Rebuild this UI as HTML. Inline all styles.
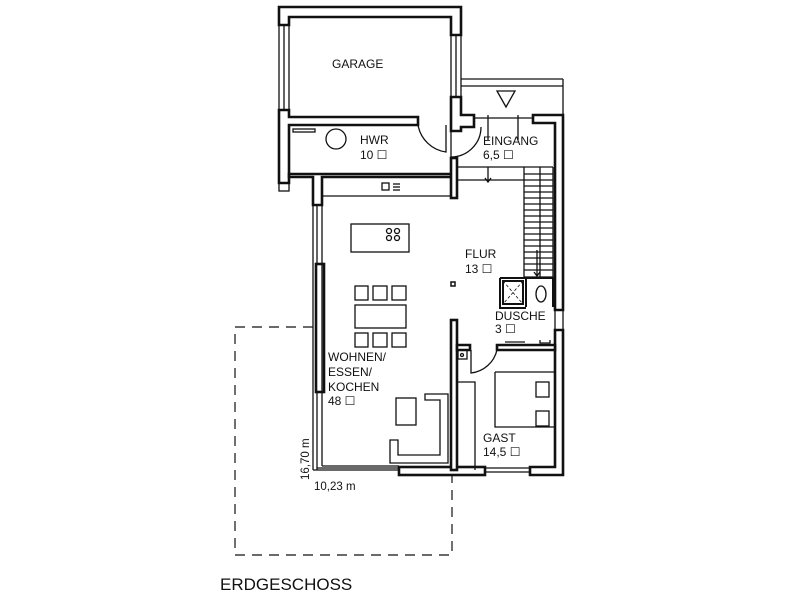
<!DOCTYPE html>
<html><head><style>body{margin:0;background:#fff}svg{display:block}</style></head><body>
<svg width="800" height="600" viewBox="0 0 800 600" xmlns="http://www.w3.org/2000/svg" font-family="Liberation Sans, sans-serif">
<g fill="none" stroke="#111" stroke-width="1.3">
<path d="M313 327 H235 V555 H452 V476" stroke-dasharray="10,7" stroke-width="1.2"/>
<g fill="#fff" stroke-width="2.6">
<path d="M279 25 V7 H461 V35 H451 V17 H289 V25 Z"/>
<path d="M279 110 H289 V117 H418 V125 H289 V183 H279 Z"/>
<path d="M451 97 H461 V115 H474 V127 H461 V131 H451 Z"/>
<path d="M289 174 H452 V177 H322 V205 H313 V177 H289 Z"/>
<rect x="451" y="158" width="6" height="40"/>
<path d="M533 115 H563 V310 H555 V123 H533 Z"/>
<path d="M555 330 H563 V475 H530 V467 H555 Z"/>
<rect x="316" y="264" width="8" height="128"/>
<rect x="399" y="467" width="86" height="8"/>
<rect x="451" y="320" width="6" height="150"/>
<path d="M457 345 H470 V350 H457 Z"/>
<path d="M497 345 H555 V350 H497 Z"/>
</g>
<rect x="279" y="25" width="10" height="85"/>
<line x1="284" y1="25" x2="284" y2="110"/>
<rect x="451" y="35" width="10" height="62"/>
<line x1="456" y1="35" x2="456" y2="97"/>
<rect x="279" y="183" width="10" height="8"/>
<line x1="323" y1="196" x2="451" y2="196"/>
<rect x="382" y="183" width="7" height="7"/>
<line x1="393" y1="184" x2="400" y2="184"/><line x1="393" y1="187" x2="400" y2="187"/><line x1="393" y1="190" x2="400" y2="190"/>
<rect x="293" y="129" width="22" height="3"/>
<circle cx="336" cy="139" r="10"/>
<path d="M418 125 A33 33 0 0 0 446 152 V125"/>
<path d="M451 131 V157 A30 30 0 0 0 481 127"/>
<path d="M461 79 H563 M461 86 H563 M563 79 V115"/>
<path d="M497 91 H515 L506 107 Z"/>
<path d="M474 118 H533 M488 115 V140 M518 115 V140"/>
<rect x="555" y="310" width="8" height="20"/>
<path d="M457 167 H553 M457 180 H524 M524 167 V277 M540 167 V277 M553 167 V277 M524 277 H553"/>
<path d="M488 167 V182 M485 178 L488 182 L491 178"/>
<path d="M524 174H553M524 180H553M524 186H553M524 192H553M524 198H553M524 204H553M524 210H553M524 216H553M524 222H553M524 228H553M524 234H553M524 240H553M524 246H553M524 252H553M524 258H553M524 264H553M524 270H553"/>
<path d="M537 250 V276 M534 272 L537 276 L540 272"/>
<line x1="313" y1="205" x2="313" y2="470"/><line x1="317" y1="205" x2="317" y2="264"/><line x1="317" y1="392" x2="317" y2="470"/><line x1="322" y1="205" x2="322" y2="466"/>
<path d="M313 470 H399 M322 466 H399 M317 468 H399"/>
<path d="M485 468 H530 M485 472 H530"/>
<rect x="351" y="224" width="58" height="28"/>
<circle cx="389" cy="231" r="2.5"/><circle cx="397" cy="231" r="2.5"/><circle cx="389" cy="238" r="2.5"/><circle cx="397" cy="238" r="2.5"/>
<rect x="355" y="286" width="13" height="14"/><rect x="373" y="286" width="14" height="14"/><rect x="392" y="286" width="14" height="14"/>
<rect x="355" y="305" width="51" height="23"/>
<rect x="355" y="333" width="13" height="14"/><rect x="373" y="333" width="14" height="14"/><rect x="392" y="333" width="14" height="14"/>
<rect x="396" y="398" width="20" height="27"/>
<path d="M425 394 H448 V463 H390 V440 H398 V455 H440 V400 H425 Z"/>
<rect x="451" y="282" width="4" height="4" stroke-width="1.5"/>
<rect x="458" y="350" width="9" height="9"/><circle cx="462" cy="355" r="1.5"/>
<path d="M471 350 V373 A30 30 0 0 0 497 350"/>
<path d="M458 382 H475 V470 M495 372 H555 M495 372 V427 H555"/>
<rect x="536" y="382" width="13" height="15"/><rect x="536" y="411" width="13" height="15"/>
<path d="M500 278 H553 V307 M500 278 V308 H526 M503 281 H523 V304 H503 Z M526 278 V307" stroke-width="2"/>
<path d="M503 281 L523 304 M523 281 L503 304" stroke-dasharray="3,2" stroke-width="0.8"/>
<ellipse cx="541" cy="294" rx="5" ry="8"/>
<path d="M505 342 H525 M540 340 V343 H550 V340"/>
</g>
<g fill="#111" font-size="12">
<text x="332" y="68">GARAGE</text>
<text x="360" y="144">HWR</text>
<text x="360" y="159">10 ☐</text>
<text x="483" y="145">EINGANG</text>
<text x="483" y="159">6,5 ☐</text>
<text x="465" y="258">FLUR</text>
<text x="465" y="273">13 ☐</text>
<text x="495" y="320">DUSCHE</text>
<text x="495" y="333">3 ☐</text>
<text x="328" y="361">WOHNEN/</text>
<text x="328" y="376">ESSEN/</text>
<text x="328" y="391">KOCHEN</text>
<text x="328" y="405">48 ☐</text>
<text x="483" y="442">GAST</text>
<text x="483" y="456">14,5 ☐</text>
<text x="314" y="490" font-size="11.5">10,23 m</text>
<text transform="translate(309,480) rotate(-90)" font-size="11.5">16,70 m</text>
<text x="220" y="590" font-size="17">ERDGESCHOSS</text>
</g>
</svg>
</body></html>
